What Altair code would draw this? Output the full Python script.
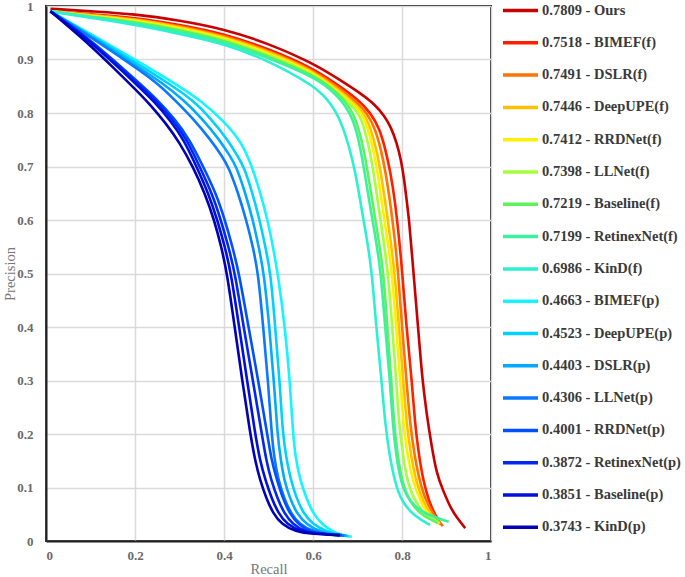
import altair as alt
import pandas as pd

names = ["0.7809 - Ours", "0.7518 - BIMEF(f)", "0.7491 - DSLR(f)", "0.7446 - DeepUPE(f)",
         "0.7412 - RRDNet(f)", "0.7398 - LLNet(f)", "0.7219 - Baseline(f)", "0.7199 - RetinexNet(f)",
         "0.6986 - KinD(f)", "0.4663 - BIMEF(p)", "0.4523 - DeepUPE(p)", "0.4403 - DSLR(p)",
         "0.4306 - LLNet(p)", "0.4001 - RRDNet(p)", "0.3872 - RetinexNet(p)", "0.3851 - Baseline(p)",
         "0.3743 - KinD(p)"]
colors = ["#c80000", "#ff1e00", "#ff7300", "#ffc000", "#fff000", "#a6ff3c", "#5cf25c", "#3cf0a0",
          "#2df0d2", "#14f5ff", "#00d2ff", "#00aaff", "#0a78ff", "#0050ff", "#0028f0", "#0010dc",
          "#0000b4"]

ours_r = [0.01, 0.1, 0.2, 0.3, 0.4, 0.5, 0.6, 0.66, 0.71, 0.74, 0.76, 0.775, 0.788, 0.798, 0.805, 0.81, 0.816, 0.823, 0.83, 0.838, 0.846, 0.855, 0.866, 0.878, 0.892, 0.91, 0.925, 0.942]
ours_p = [0.995, 0.99, 0.985, 0.973, 0.957, 0.93, 0.893, 0.862, 0.835, 0.815, 0.795, 0.774, 0.745, 0.712, 0.675, 0.64, 0.60, 0.53, 0.46, 0.38, 0.30, 0.24, 0.18, 0.125, 0.095, 0.06, 0.042, 0.024]

bimef_f_r = [0.01, 0.1, 0.2, 0.3, 0.4, 0.5, 0.6, 0.66, 0.70, 0.73, 0.75, 0.763, 0.774, 0.784, 0.793, 0.80, 0.81, 0.822, 0.829, 0.838, 0.848, 0.86, 0.875, 0.888]
bimef_f_p = [0.99, 0.985, 0.978, 0.965, 0.948, 0.92, 0.884, 0.85, 0.826, 0.80, 0.77, 0.731, 0.69, 0.637, 0.57, 0.507, 0.40, 0.301, 0.22, 0.16, 0.112, 0.075, 0.048, 0.03]

dslr_f_r = [0.01, 0.1, 0.2, 0.3, 0.4, 0.5, 0.6, 0.66, 0.695, 0.722, 0.74, 0.753, 0.763, 0.773, 0.783, 0.791, 0.80, 0.81, 0.818, 0.828, 0.84, 0.855, 0.875, 0.892]
dslr_f_p = [0.99, 0.984, 0.976, 0.963, 0.945, 0.917, 0.881, 0.846, 0.822, 0.80, 0.77, 0.731, 0.69, 0.637, 0.57, 0.507, 0.40, 0.301, 0.22, 0.16, 0.11, 0.072, 0.044, 0.028]

deepupe_f_r = [0.01, 0.1, 0.2, 0.3, 0.4, 0.5, 0.6, 0.66, 0.69, 0.715, 0.73, 0.743, 0.752, 0.762, 0.773, 0.783, 0.793, 0.803, 0.81, 0.82, 0.832, 0.848, 0.868, 0.885]
deepupe_f_p = [0.99, 0.983, 0.975, 0.961, 0.943, 0.915, 0.879, 0.842, 0.82, 0.80, 0.77, 0.731, 0.69, 0.637, 0.57, 0.507, 0.40, 0.301, 0.22, 0.16, 0.11, 0.072, 0.045, 0.032]

rrdnet_f_r = [0.01, 0.1, 0.2, 0.3, 0.4, 0.5, 0.6, 0.66, 0.688, 0.71, 0.724, 0.736, 0.745, 0.754, 0.766, 0.777, 0.787, 0.796, 0.803, 0.812, 0.825, 0.842, 0.862, 0.882]
rrdnet_f_p = [0.99, 0.982, 0.973, 0.959, 0.941, 0.912, 0.877, 0.838, 0.818, 0.80, 0.77, 0.731, 0.69, 0.637, 0.57, 0.507, 0.40, 0.301, 0.22, 0.16, 0.11, 0.072, 0.046, 0.033]

llnet_f_r = [0.01, 0.1, 0.2, 0.3, 0.4, 0.5, 0.6, 0.66, 0.685, 0.703, 0.716, 0.727, 0.736, 0.745, 0.757, 0.768, 0.778, 0.787, 0.793, 0.802, 0.812, 0.83, 0.855, 0.885]
llnet_f_p = [0.99, 0.981, 0.971, 0.957, 0.938, 0.909, 0.874, 0.835, 0.815, 0.80, 0.77, 0.731, 0.69, 0.637, 0.57, 0.507, 0.40, 0.301, 0.22, 0.16, 0.11, 0.072, 0.046, 0.034]

baseline_f_r = [0.01, 0.1, 0.2, 0.3, 0.4, 0.5, 0.6, 0.64, 0.67, 0.69, 0.703, 0.714, 0.723, 0.733, 0.746, 0.758, 0.767, 0.776, 0.782, 0.79, 0.80, 0.818, 0.845, 0.88]
baseline_f_p = [0.99, 0.98, 0.97, 0.955, 0.936, 0.906, 0.871, 0.848, 0.825, 0.80, 0.77, 0.731, 0.69, 0.637, 0.57, 0.507, 0.40, 0.301, 0.22, 0.16, 0.11, 0.072, 0.047, 0.034]

retinex_f_r = [0.01, 0.1, 0.2, 0.3, 0.4, 0.5, 0.6, 0.64, 0.665, 0.683, 0.697, 0.707, 0.716, 0.726, 0.74, 0.752, 0.762, 0.773, 0.779, 0.787, 0.797, 0.815, 0.85, 0.905]
retinex_f_p = [0.99, 0.979, 0.968, 0.952, 0.933, 0.903, 0.868, 0.844, 0.822, 0.80, 0.77, 0.731, 0.69, 0.637, 0.57, 0.507, 0.40, 0.301, 0.22, 0.16, 0.11, 0.075, 0.05, 0.036]

kind_f_r = [0.01, 0.1, 0.2, 0.3, 0.4, 0.5, 0.6, 0.63, 0.65, 0.667, 0.683, 0.695, 0.706, 0.72, 0.732, 0.742, 0.754, 0.762, 0.772, 0.784, 0.80, 0.83, 0.863]
kind_f_p = [0.99, 0.978, 0.965, 0.948, 0.93, 0.898, 0.852, 0.828, 0.805, 0.775, 0.731, 0.69, 0.637, 0.57, 0.507, 0.40, 0.301, 0.22, 0.16, 0.11, 0.072, 0.045, 0.03]

bimef_p_r = [0.01, 0.1, 0.2, 0.3, 0.346, 0.4, 0.44, 0.463, 0.482, 0.498, 0.51, 0.521, 0.537, 0.548, 0.555, 0.561, 0.571, 0.585, 0.6, 0.62, 0.645, 0.665, 0.687]
bimef_p_p = [0.99, 0.948, 0.90, 0.85, 0.824, 0.785, 0.745, 0.70, 0.65, 0.60, 0.55, 0.50, 0.40, 0.30, 0.20, 0.155, 0.114, 0.08, 0.052, 0.031, 0.017, 0.011, 0.008]

deepupe_p_r = [0.01, 0.1, 0.2, 0.28, 0.33, 0.37, 0.408, 0.43, 0.445, 0.464, 0.48, 0.493, 0.505, 0.515, 0.525, 0.532, 0.54, 0.55, 0.563, 0.578, 0.6, 0.63, 0.655, 0.68]
deepupe_p_p = [0.99, 0.946, 0.895, 0.853, 0.824, 0.79, 0.75, 0.72, 0.70, 0.65, 0.60, 0.55, 0.50, 0.40, 0.30, 0.20, 0.155, 0.114, 0.08, 0.052, 0.031, 0.018, 0.012, 0.009]

dslr_p_r = [0.01, 0.1, 0.2, 0.26, 0.31, 0.35, 0.39, 0.413, 0.428, 0.448, 0.465, 0.478, 0.49, 0.502, 0.512, 0.52, 0.527, 0.535, 0.548, 0.563, 0.585, 0.615, 0.645, 0.675]
dslr_p_p = [0.99, 0.944, 0.89, 0.857, 0.824, 0.79, 0.75, 0.72, 0.70, 0.65, 0.60, 0.55, 0.50, 0.40, 0.30, 0.20, 0.155, 0.114, 0.08, 0.052, 0.031, 0.018, 0.012, 0.01]

llnet_p_r = [0.01, 0.1, 0.2, 0.25, 0.29, 0.33, 0.37, 0.395, 0.41, 0.432, 0.45, 0.465, 0.477, 0.488, 0.499, 0.507, 0.513, 0.522, 0.535, 0.55, 0.57, 0.6, 0.635, 0.67]
llnet_p_p = [0.99, 0.942, 0.886, 0.856, 0.824, 0.79, 0.75, 0.72, 0.70, 0.65, 0.60, 0.55, 0.50, 0.40, 0.30, 0.20, 0.155, 0.114, 0.08, 0.052, 0.031, 0.018, 0.012, 0.01]

rrdnet_p_r = [0.01, 0.05, 0.1, 0.15, 0.2, 0.249, 0.29, 0.323, 0.353, 0.382, 0.402, 0.419, 0.434, 0.455, 0.477, 0.497, 0.507, 0.519, 0.532, 0.547, 0.567, 0.592, 0.625, 0.665]
rrdnet_p_p = [0.99, 0.967, 0.936, 0.90, 0.863, 0.826, 0.788, 0.75, 0.70, 0.65, 0.60, 0.55, 0.50, 0.40, 0.30, 0.20, 0.15, 0.114, 0.08, 0.052, 0.031, 0.018, 0.013, 0.011]

retinex_p_r = [0.01, 0.05, 0.1, 0.15, 0.2, 0.247, 0.285, 0.317, 0.345, 0.373, 0.393, 0.41, 0.425, 0.444, 0.465, 0.485, 0.495, 0.506, 0.52, 0.535, 0.555, 0.58, 0.62, 0.66]
retinex_p_p = [0.99, 0.966, 0.934, 0.898, 0.86, 0.824, 0.787, 0.75, 0.70, 0.65, 0.60, 0.55, 0.50, 0.40, 0.30, 0.20, 0.15, 0.114, 0.08, 0.052, 0.031, 0.018, 0.013, 0.011]

baseline_p_r = [0.01, 0.05, 0.1, 0.15, 0.2, 0.245, 0.28, 0.31, 0.338, 0.365, 0.385, 0.402, 0.416, 0.434, 0.452, 0.47, 0.481, 0.493, 0.507, 0.522, 0.542, 0.572, 0.61, 0.66]
baseline_p_p = [0.99, 0.965, 0.932, 0.895, 0.856, 0.82, 0.785, 0.75, 0.70, 0.65, 0.60, 0.55, 0.50, 0.40, 0.30, 0.20, 0.15, 0.114, 0.08, 0.052, 0.031, 0.018, 0.013, 0.011]

kind_p_r = [0.01, 0.05, 0.1, 0.15, 0.2, 0.234, 0.27, 0.3, 0.33, 0.357, 0.378, 0.394, 0.407, 0.424, 0.441, 0.459, 0.47, 0.481, 0.495, 0.51, 0.53, 0.56, 0.60, 0.66]
kind_p_p = [0.99, 0.962, 0.926, 0.886, 0.845, 0.816, 0.78, 0.745, 0.70, 0.65, 0.60, 0.55, 0.50, 0.40, 0.30, 0.20, 0.15, 0.114, 0.08, 0.052, 0.031, 0.018, 0.013, 0.011]

series = [
    (ours_r, ours_p), (bimef_f_r, bimef_f_p), (dslr_f_r, dslr_f_p), (deepupe_f_r, deepupe_f_p),
    (rrdnet_f_r, rrdnet_f_p), (llnet_f_r, llnet_f_p), (baseline_f_r, baseline_f_p),
    (retinex_f_r, retinex_f_p), (kind_f_r, kind_f_p), (bimef_p_r, bimef_p_p),
    (deepupe_p_r, deepupe_p_p), (dslr_p_r, dslr_p_p), (llnet_p_r, llnet_p_p),
    (rrdnet_p_r, rrdnet_p_p), (retinex_p_r, retinex_p_p), (baseline_p_r, baseline_p_p),
    (kind_p_r, kind_p_p),
]

rows = []
for name, (rr, pp) in zip(names, series):
    for i, (x, y) in enumerate(zip(rr, pp)):
        rows.append({"series": name, "recall": x, "precision": y, "order": i})
df = pd.DataFrame(rows)

serif = "Liberation Serif"

chart = alt.Chart(df).mark_line(strokeWidth=2.6, interpolate="basis").encode(
    x=alt.X("recall:Q", scale=alt.Scale(domain=[0, 1], nice=False),
            axis=alt.Axis(title="Recall", values=[0, 0.2, 0.4, 0.6, 0.8, 1], format="~g")),
    y=alt.Y("precision:Q", scale=alt.Scale(domain=[0, 1], nice=False),
            axis=alt.Axis(title="Precision", values=[0, 0.1, 0.2, 0.3, 0.4, 0.5, 0.6, 0.7, 0.8, 0.9, 1],
                          format="~g", titleX=-36, titleY=267.5, titleAngle=270,
                          titleAlign="center", titleBaseline="middle")),
    color=alt.Color("series:N", scale=alt.Scale(domain=names, range=colors),
                    legend=alt.Legend(title=None, orient="none", legendX=455, legendY=-15,
                                      symbolType="stroke", symbolSize=1225, symbolStrokeWidth=3.5,
                                      labelFont=serif, labelFontWeight="bold", labelFontSize=14.5,
                                      labelColor="#3a3a3a", labelOffset=2, rowPadding=5.3,
                                      padding=0, labelLimit=200)),
    detail="series:N",
    order=alt.Order("order:Q"),
).properties(
    width=445, height=535,
    autosize=alt.AutoSizeParams(type="none"),
    padding={"left": 46, "top": 6, "right": 194, "bottom": 36},
).configure_view(
    stroke="#222222", strokeWidth=2
).configure_axis(
    domainColor="#222222", domainWidth=2, grid=True, gridColor="#dadada", gridWidth=1.5,
    ticks=False, labelFont=serif, labelFontWeight="bold", labelFontSize=13, labelColor="#6a6a6a",
    titleFont=serif, titleFontWeight="normal", titleFontSize=14.5, titleColor="#777777",
)
chart = chart.configure_axisX(labelPadding=8, titlePadding=0).configure_axisY(labelPadding=13)

chart.save("out.html", embed_options={"renderer": "svg", "actions": False})
